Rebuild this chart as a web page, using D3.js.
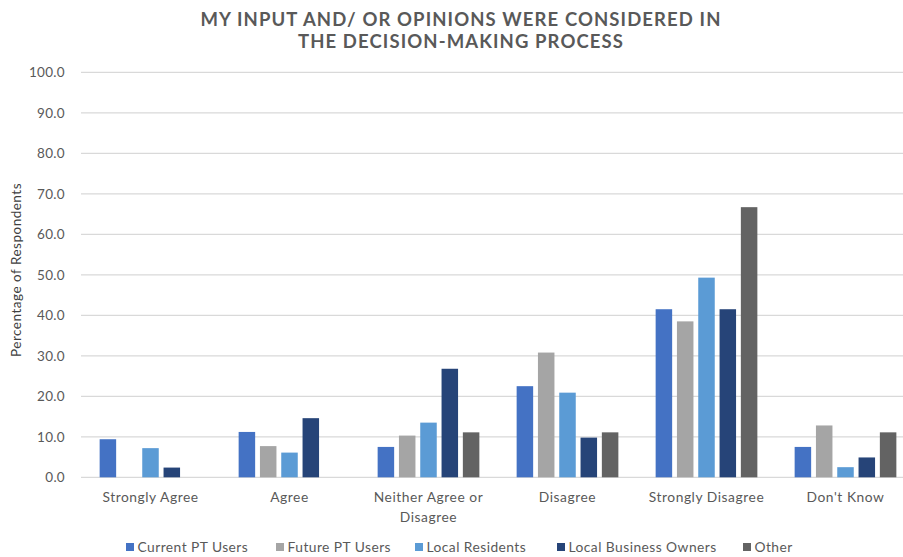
<!DOCTYPE html>
<html>
<head>
<meta charset="utf-8">
<script src="https://cdn.jsdelivr.net/npm/d3@7/dist/d3.min.js"></script>
<style>
  html, body { margin: 0; padding: 0; background: #fff; }
  svg { display: block; font-family: Lato, "Open Sans", sans-serif; }
</style>
</head>
<body>
<svg id="chart" width="903" height="557"></svg>
<script>
// Response categories (x axis) and respondent groups (series)
const categories = [
  ["Strongly Agree"],
  ["Agree"],
  ["Neither Agree or", "Disagree"],
  ["Disagree"],
  ["Strongly Disagree"],
  ["Don't Know"]
];
const seriesNames = ["Current PT Users", "Future PT Users", "Local Residents", "Local Business Owners", "Other"];
const seriesColors = ["#4472C4", "#A5A5A5", "#5B9BD5", "#264478", "#636363"];

// Percentage of respondents per category, one array per group
const currentPT   = [9.4, 11.2, 7.5, 22.5, 41.5, 7.5];
const futurePT    = [0.0, 7.7, 10.3, 30.8, 38.5, 12.8];
const residents   = [7.2, 6.1, 13.5, 20.9, 49.3, 2.5];
const business    = [2.4, 14.6, 26.8, 9.8, 41.5, 4.9];
const other       = [0.0, 0.0, 11.1, 11.1, 66.7, 11.1];
const seriesValues = [currentPT, futurePT, residents, business, other];

const yTicks = [0, 10, 20, 30, 40, 50, 60, 70, 80, 90, 100];

const svg = d3.select("#chart");
const plotLeft = 81, plotRight = 915, plotTop = 72.3, plotBottom = 477.3;

const x0 = d3.scaleBand()
  .domain(d3.range(categories.length))
  .range([plotLeft, plotRight])
  .padding(0);

const x1 = d3.scaleBand()
  .domain(d3.range(seriesNames.length))
  .range([0, x0.bandwidth()])
  .paddingInner(0.225)
  .paddingOuter(0.875);

const y = d3.scaleLinear().domain([0, 100]).range([plotBottom, plotTop]);

// Gridlines
svg.append("g")
  .selectAll("line")
  .data(yTicks)
  .join("line")
  .attr("x1", plotLeft).attr("x2", 903)
  .attr("y1", d => y(d)).attr("y2", d => y(d))
  .attr("stroke", "#D9D9D9")
  .attr("stroke-width", 1.2);

// Y axis labels
const yAxis = d3.axisLeft(y).tickValues(yTicks).tickFormat(d3.format(".1f")).tickSize(0).tickPadding(0);
svg.append("g")
  .attr("transform", "translate(65,0)")
  .call(yAxis)
  .call(g => g.select(".domain").remove())
  .call(g => g.selectAll("text")
    .attr("fill", "#595959")
    .attr("font-size", 13.5)
    .attr("letter-spacing", "0.3px")
    .attr("font-family", "Lato, sans-serif"));

// Y axis title
svg.append("text")
  .attr("transform", "translate(21,270) rotate(-90)")
  .attr("text-anchor", "middle")
  .attr("fill", "#404040")
  .attr("font-size", 13.5)
  .attr("letter-spacing", "0.5px")
  .text("Percentage of Respondents");

// Bars
const groups = svg.append("g")
  .selectAll("g")
  .data(categories.map((c, i) => i))
  .join("g")
  .attr("transform", i => `translate(${x0(i)},0)`);

groups.selectAll("rect")
  .data(i => seriesValues.map((vals, s) => ({ s, v: vals[i] })))
  .join("rect")
  .attr("x", d => x1(d.s))
  .attr("width", x1.bandwidth())
  .attr("y", d => y(d.v))
  .attr("height", d => y(0) - y(d.v))
  .attr("fill", d => seriesColors[d.s]);

// Category labels
const catLabels = svg.append("g")
  .selectAll("text")
  .data(categories)
  .join("text")
  .attr("x", (d, i) => x0(i) + x0.bandwidth() / 2)
  .attr("y", 502)
  .attr("text-anchor", "middle")
  .attr("fill", "#595959")
  .attr("font-size", 13.8)
  .attr("letter-spacing", "0.55px");
catLabels.selectAll("tspan")
  .data(d => d)
  .join("tspan")
  .attr("x", function () { return this.parentNode.getAttribute("x"); })
  .attr("dy", (d, j) => j === 0 ? 0 : 19.5)
  .text(d => d);

// Title
const title = svg.append("text")
  .attr("text-anchor", "middle")
  .attr("fill", "#595959")
  .attr("font-size", 18.5)
  .attr("font-weight", "bold")
  .attr("letter-spacing", "1.1px");
title.append("tspan").attr("x", 461).attr("y", 25.7).text("MY INPUT AND/ OR OPINIONS WERE CONSIDERED IN");
title.append("tspan").attr("x", 461).attr("y", 48.3).text("THE DECISION-MAKING PROCESS");

// Legend
const legendX = [126, 276, 415, 557, 743];
const legend = svg.append("g")
  .selectAll("g")
  .data(seriesNames)
  .join("g")
  .attr("transform", (d, i) => `translate(${legendX[i]},0)`);
legend.append("rect")
  .attr("x", 0).attr("y", 543)
  .attr("width", 8).attr("height", 8)
  .attr("fill", (d, i) => seriesColors[i]);
legend.append("text")
  .attr("x", 11.5).attr("y", 552)
  .attr("fill", "#595959")
  .attr("font-size", 13.8)
  .attr("letter-spacing", "0.45px")
  .text(d => d);
</script>
</body>
</html>
